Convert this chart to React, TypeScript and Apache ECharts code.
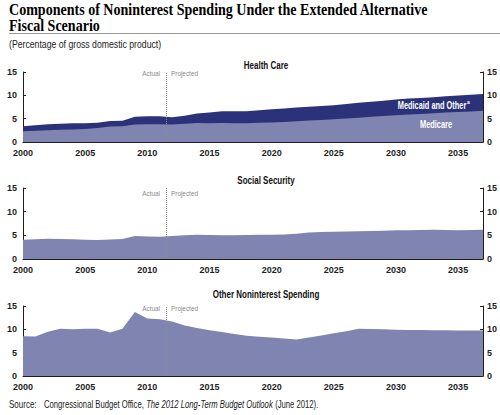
import React, { useEffect, useRef } from 'react';
import * as echarts from 'echarts';

// Percentage of GDP, 2000-2037
const years = Array.from({ length: 38 }, (_, i) => 2000 + i);

// top of the dark band (Medicare + Medicaid and Other)
const healthTotal = [
  3.4, 3.6, 3.8, 3.9, 4.0, 4.0, 4.1, 4.5, 4.55, 5.4,
  5.5, 5.5, 5.3, 5.6, 6.1, 6.3, 6.6, 6.6, 6.6, 6.8,
  7.0, 7.2, 7.4, 7.55, 7.7, 7.9, 8.15, 8.4, 8.6, 8.85,
  9.1, 9.3, 9.45, 9.6, 9.8, 9.95, 10.1, 10.3,
];

const medicare = [
  2.3, 2.4, 2.5, 2.6, 2.7, 2.8, 3.0, 3.3, 3.35, 3.75,
  3.8, 3.8, 3.75, 3.9, 4.05, 4.0, 4.05, 4.0, 4.0, 4.1,
  4.2, 4.3, 4.45, 4.6, 4.7, 4.85, 5.05, 5.2, 5.4, 5.55,
  5.75, 5.9, 6.0, 6.15, 6.3, 6.45, 6.55, 6.7,
];

const socialSecurity = [
  4.05, 4.15, 4.3, 4.25, 4.15, 4.05, 4.0, 4.1, 4.2, 4.85,
  4.75, 4.7, 4.85, 5.0, 5.1, 5.05, 5.0, 5.0, 5.05, 5.1,
  5.1, 5.2, 5.35, 5.6, 5.7, 5.75, 5.8, 5.85, 5.9, 5.95,
  6.05, 6.1, 6.15, 6.2, 6.15, 6.1, 6.15, 6.2,
];

const otherNoninterest = [
  8.5, 8.45, 9.5, 10.1, 10.0, 10.1, 10.1, 9.3, 10.15, 13.7,
  12.3, 12.15, 11.7, 10.8, 10.3, 9.8, 9.45, 9.0, 8.6, 8.4,
  8.25, 8.05, 7.8, 8.25, 8.7, 9.15, 9.6, 10.1, 10.05, 10.0,
  9.9, 9.85, 9.85, 9.8, 9.8, 9.75, 9.75, 9.75,
];

const panelTitles = ['Health Care', 'Social Security', 'Other Noninterest Spending'];
const dividerYear = 2011.5;

const LIGHT = '#7f84b1';
const DARK = '#2c3279';
const INK = '#1e1e1e';
const SANS = "'Liberation Sans', Arial, sans-serif";
const SERIF = "'Liberation Serif', 'DejaVu Serif', serif";

const panels = [
  { top: 72, height: 70, noteY: 73, titleY: 66 },
  { top: 188, height: 71, noteY: 193, titleY: 181 },
  { top: 306, height: 70, noteY: 308, titleY: 295 },
];

const pairs = (vals: number[]) => vals.map((v, i) => [years[i], v]);

export default function App() {
  const chartRef = useRef<HTMLDivElement>(null);

  useEffect(() => {
    if (!chartRef.current) return;
    const chart = echarts.init(chartRef.current, undefined, { renderer: 'svg' });

    const grid = panels.map(p => ({ left: 23, width: 460, top: p.top, height: p.height }));

    const xAxis = panels.map((_, i) => ({
      type: 'value',
      gridIndex: i,
      min: 2000,
      max: 2037,
      interval: 5,
      axisLine: { show: true, onZero: false, lineStyle: { color: INK, width: 1 } },
      axisTick: { show: true, inside: true, length: 3, lineStyle: { color: INK } },
      axisLabel: {
        color: INK, fontWeight: 'bold', fontSize: 9, fontFamily: SANS, margin: 6,
        showMaxLabel: false,
        formatter: (v: number) => (v % 5 === 0 ? String(v) : ''),
      },
      splitLine: { show: false },
    }));

    const yAxis: any[] = [];
    panels.forEach((_, i) => {
      (['left', 'right'] as const).forEach(pos => {
        yAxis.push({
          type: 'value',
          gridIndex: i,
          position: pos,
          min: 0,
          max: 15,
          interval: 5,
          axisLine: { show: true, lineStyle: { color: INK, width: 1 } },
          axisTick: { show: true, inside: true, length: 3, lineStyle: { color: INK } },
          axisLabel: {
            color: INK, fontWeight: 'bold', fontSize: 9, fontFamily: SANS,
            margin: pos === 'left' ? 6 : 4,
          },
          splitLine: { show: false },
        });
      });
    });

    const divider = {
      silent: true,
      symbol: 'none',
      label: { show: false },
      lineStyle: { type: 'dotted', color: '#8c8c8c', width: 1 },
      data: [{ xAxis: dividerYear }],
    };

    const area = (name: string, data: number[], panel: number, color: string, z: number, withDivider?: boolean) => ({
      name,
      type: 'line',
      xAxisIndex: panel,
      yAxisIndex: panel * 2,
      data: pairs(data),
      symbol: 'none',
      lineStyle: { width: 0 },
      areaStyle: { color, opacity: 1 },
      markLine: withDivider ? divider : undefined,
      z,
    });

    const series = [
      area('Medicaid and Other', healthTotal, 0, DARK, 2),
      area('Medicare', medicare, 0, LIGHT, 3, true),
      area('Social Security', socialSecurity, 1, LIGHT, 2, true),
      area('Other Noninterest Spending', otherNoninterest, 2, LIGHT, 2, true),
    ];

    const noteStyle = { fontSize: 8, fontFamily: SANS, fill: '#8a8a8a', verticalAlign: 'middle' };
    const white = { fontFamily: SANS, fontWeight: 'bold', fontSize: 10, fill: '#fff', align: 'center', verticalAlign: 'middle' };

    const graphic: any[] = [
      {
        type: 'text', x: 9, y: 1, scaleX: 0.826,
        style: {
          text: 'Components of Noninterest Spending Under the Extended Alternative\nFiscal Scenario',
          fontFamily: SERIF, fontWeight: 'bold', fontSize: 17, lineHeight: 16, fill: '#000',
        },
      },
      { type: 'line', shape: { x1: 9, y1: 33.5, x2: 500, y2: 33.5 }, style: { stroke: '#9a9a9a', lineWidth: 1 } },
      {
        type: 'text', x: 9, y: 45, scaleX: 0.87,
        style: { text: '(Percentage of gross domestic product)', fontFamily: SANS, fontSize: 10, fill: '#222', verticalAlign: 'middle' },
      },
      ...panels.map((p, i) => ({
        type: 'text', x: 266, y: p.titleY, scaleX: 0.8,
        style: { text: panelTitles[i], fontFamily: SANS, fontWeight: 'bold', fontSize: 10, fill: '#111', align: 'center', verticalAlign: 'middle' },
      })),
      ...panels.flatMap(p => [
        { type: 'text', x: 160, y: p.noteY, scaleX: 0.8, style: { ...noteStyle, text: 'Actual', align: 'right' } },
        { type: 'text', x: 171, y: p.noteY, scaleX: 0.8, style: { ...noteStyle, text: 'Projected', align: 'left' } },
      ]),
      { type: 'text', x: 432, y: 106, z: 10, scaleX: 0.74, style: { ...white, text: 'Medicaid and Other' } },
      {
        type: 'text', x: 467, y: 102, z: 10,
        style: { ...white, text: 'a', fontSize: 5, align: 'left' },
      },
      { type: 'text', x: 436, y: 125, z: 10, scaleX: 0.74, style: { ...white, text: 'Medicare' } },
      {
        type: 'text', x: 9, y: 405, scaleX: 0.8,
        style: { text: 'Source:', fontFamily: SANS, fontSize: 10, fill: '#222', verticalAlign: 'middle' },
      },
      {
        type: 'text', x: 44, y: 405, scaleX: 0.77,
        style: {
          text: '{n|Congressional Budget Office, }{i|The 2012 Long-Term Budget Outlook}{n| (June 2012).}',
          verticalAlign: 'middle',
          rich: {
            n: { fontFamily: SANS, fontSize: 10, fill: '#222' },
            i: { fontFamily: SANS, fontSize: 10, fontStyle: 'italic', fill: '#222' },
          },
        },
      },
    ];

    chart.setOption({
      animation: false,
      grid,
      xAxis,
      yAxis,
      series,
      graphic,
    });

    return () => chart.dispose();
  }, []);

  return (
    <div
      ref={chartRef}
      style={{ position: 'absolute', left: 0, top: 0, width: '500px', height: '415px', background: '#fff' }}
    />
  );
}
